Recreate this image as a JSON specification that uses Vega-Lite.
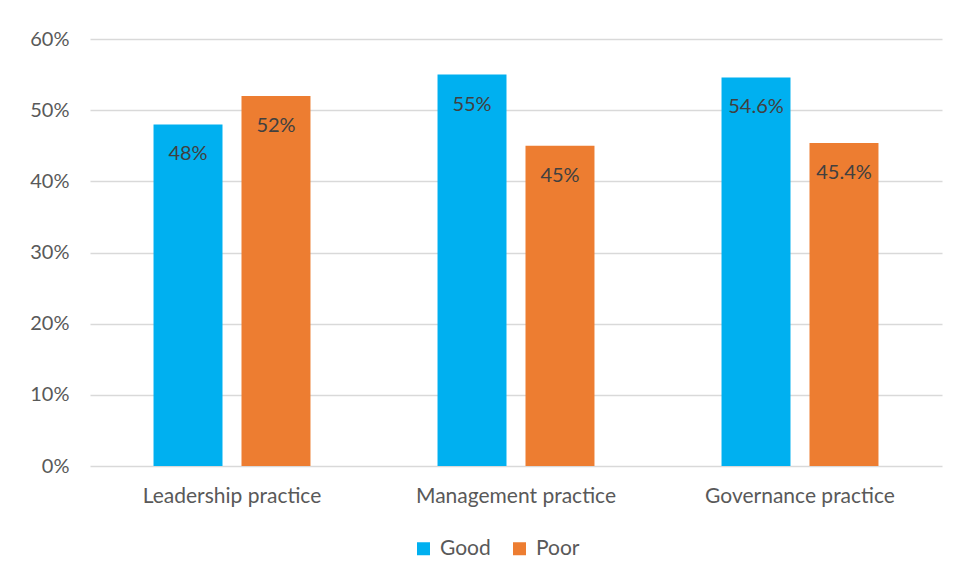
{
  "$schema": "https://vega.github.io/schema/vega-lite/v6.json",
  "width": 852,
  "height": 427,
  "autosize": {"type": "none"},
  "padding": {"left": 90, "top": 39, "right": 18, "bottom": 116},
  "background": "white",
  "config": {
    "font": "Lato",
    "view": {"stroke": null},
    "axis": {"labelFont": "Lato", "labelColor": "#595959"},
    "legend": {"labelFont": "Lato", "labelColor": "#595959"}
  },
  "data": {
    "values": [
      {"practice": "Leadership practice", "rating": "Good", "value": 0.48, "label": "48%"},
      {"practice": "Leadership practice", "rating": "Poor", "value": 0.52, "label": "52%"},
      {"practice": "Management practice", "rating": "Good", "value": 0.55, "label": "55%"},
      {"practice": "Management practice", "rating": "Poor", "value": 0.45, "label": "45%"},
      {"practice": "Governance practice", "rating": "Good", "value": 0.546, "label": "54.6%"},
      {"practice": "Governance practice", "rating": "Poor", "value": 0.454, "label": "45.4%"}
    ]
  },
  "encoding": {
    "x": {
      "field": "practice",
      "type": "nominal",
      "sort": null,
      "scale": {"paddingInner": 0, "paddingOuter": 0},
      "axis": {"title": null, "labelAngle": 0, "domain": false, "ticks": false, "labelFontSize": 21, "labelLimit": 300, "labelPadding": 19}
    },
    "xOffset": {
      "field": "rating",
      "type": "nominal",
      "scale": {"paddingInner": 0.216, "paddingOuter": 0.722}
    },
    "y": {
      "field": "value",
      "type": "quantitative",
      "scale": {"domain": [0, 0.6], "nice": false},
      "axis": {"title": null, "format": ".0%", "values": [0, 0.1, 0.2, 0.3, 0.4, 0.5, 0.6], "domain": false, "ticks": false, "gridColor": "#D9D9D9", "gridWidth": 1.5, "labelFontSize": 20, "labelPadding": 21}
    }
  },
  "layer": [
    {
      "mark": {"type": "bar"},
      "encoding": {
        "color": {
          "field": "rating",
          "type": "nominal",
          "scale": {"domain": ["Good", "Poor"], "range": ["#00B0F0", "#ED7D31"]},
          "legend": {"title": null, "orient": "none", "legendX": 323, "legendY": 499, "direction": "horizontal", "symbolType": "square", "symbolSize": 169, "symbolStrokeWidth": 0, "labelFontSize": 21, "labelOffset": 6, "columnPadding": 18}
        }
      }
    },
    {
      "mark": {"type": "text", "baseline": "middle", "dy": 30, "fontSize": 20, "color": "#404040"},
      "encoding": {"text": {"field": "label"}}
    }
  ]
}
